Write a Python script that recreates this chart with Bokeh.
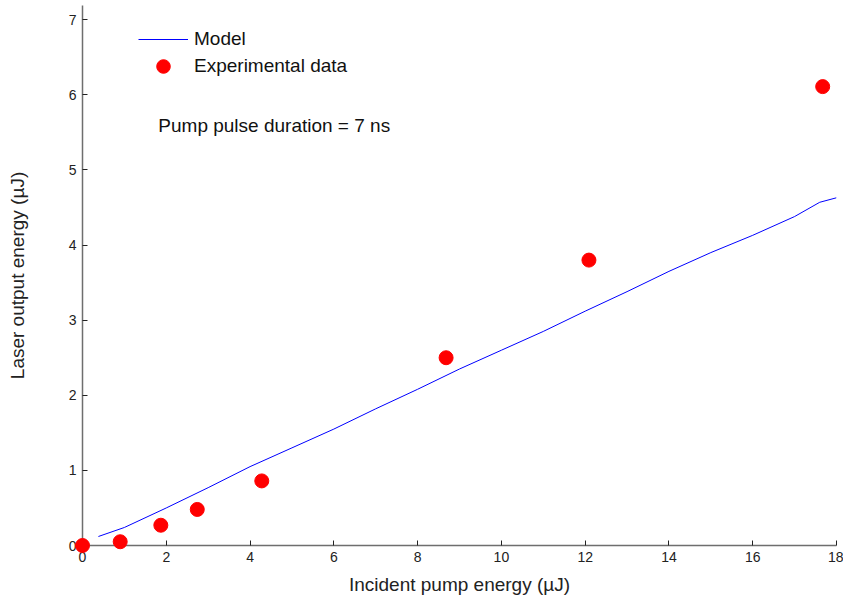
from bokeh.plotting import figure
from bokeh.models import Range1d, FixedTicker, Legend, LegendItem, Label
from bokeh.embed import file_html
from bokeh.resources import INLINE

# Data
model_x = [0.38, 1, 2, 3, 4, 5, 6, 7, 8, 9, 10, 11, 12, 13, 14, 15, 16, 17, 17.6, 18]
model_y = [0.12, 0.24, 0.50, 0.77, 1.05, 1.30, 1.55, 1.82, 2.08, 2.35, 2.60, 2.85,
           3.12, 3.38, 3.65, 3.90, 4.13, 4.38, 4.57, 4.63]
exp_x = [0.0, 0.90, 1.87, 2.74, 4.28, 8.68, 12.09, 17.67]
exp_y = [0.0, 0.05, 0.27, 0.48, 0.86, 2.50, 3.80, 6.11]
x_ticks = [0, 2, 4, 6, 8, 10, 12, 14, 16, 18]
y_ticks = [0, 1, 2, 3, 4, 5, 6, 7]

FONT = "Liberation Sans"

p = figure(width=843, height=597, output_backend="svg", toolbar_location=None,
           x_range=Range1d(0, 18), y_range=Range1d(0, 7.19),
           min_border_left=82, min_border_right=7, min_border_top=5, min_border_bottom=51)
p.outline_line_color = None
p.grid.visible = False
p.background_fill_color = "white"

l_model = p.line(model_x, model_y, line_color="#0000ff", line_width=1)
l_exp = p.scatter(exp_x, exp_y, size=14, fill_color="#ff0000", line_color="#ff0000", level="overlay")

for ax in (p.xaxis[0], p.yaxis[0]):
    ax.axis_line_color = "#6e6e6e"
    ax.axis_line_width = 1.5
    ax.major_tick_line_color = "#222222"
    ax.major_tick_in = 5
    ax.major_tick_out = 0
    ax.minor_tick_line_color = None
    ax.major_label_text_font = FONT
    ax.major_label_text_font_size = "14px"
    ax.major_label_text_color = "#222222"
    ax.axis_label_text_font = FONT
    ax.axis_label_text_font_size = "19px"
    ax.axis_label_text_font_style = "normal"
    ax.axis_label_text_color = "#222222"

p.xaxis.ticker = FixedTicker(ticks=x_ticks)
p.yaxis.ticker = FixedTicker(ticks=y_ticks)
p.xaxis.axis_label = "Incident pump energy (µJ)"
p.yaxis.axis_label = "Laser output energy (µJ)"
p.xaxis.major_label_standoff = 6
p.xaxis.axis_label_standoff = 9
p.yaxis.major_label_standoff = 6
p.yaxis.axis_label_standoff = 38

common = dict(glyph_width=50, label_height=20, label_standoff=6, padding=0, margin=0,
              border_line_color=None, background_fill_alpha=0,
              label_text_font=FONT, label_text_font_size="19px", label_text_color="#111111")
legend1 = Legend(items=[LegendItem(label="Model", renderers=[l_model])],
                 location=(56, 495), glyph_height=20, **common)
legend2 = Legend(items=[LegendItem(label="Experimental data", renderers=[l_exp])],
                 location=(56, 462), glyph_height=34, **common)
p.add_layout(legend1)
p.add_layout(legend2)

p.add_layout(Label(x=1.81, y=5.595, text="Pump pulse duration = 7 ns", text_font=FONT,
                   text_font_size="19px", text_baseline="middle", text_color="#111111"))

open("out.html", "w").write(file_html(p, INLINE))
